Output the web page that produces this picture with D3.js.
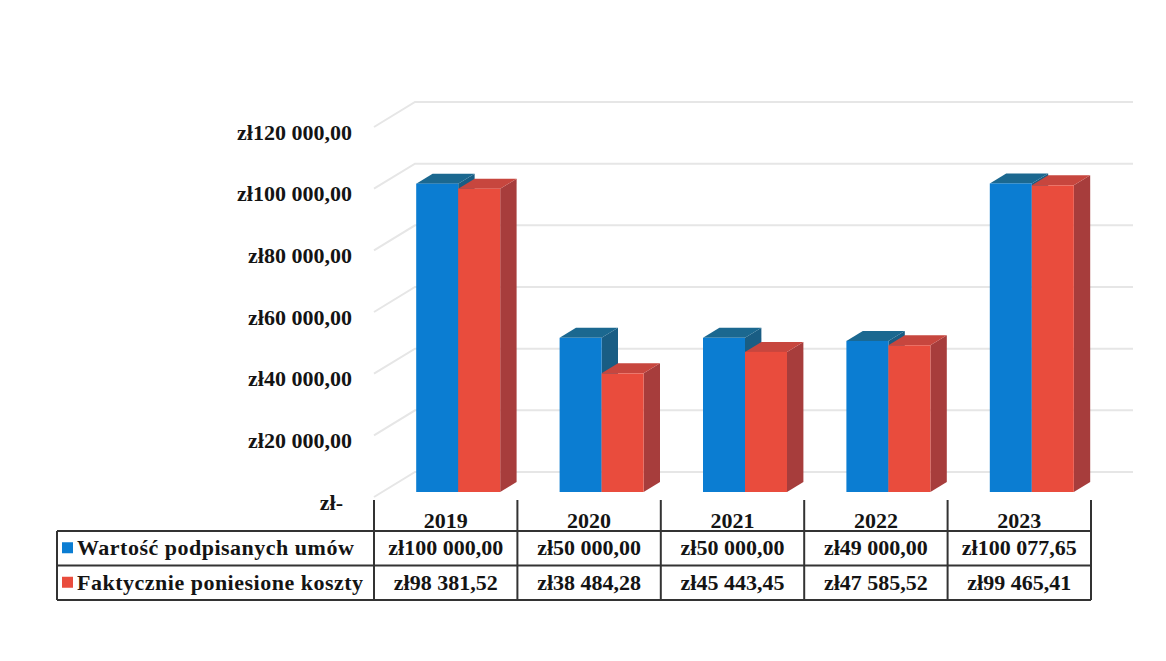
<!DOCTYPE html>
<html>
<head>
<meta charset="utf-8">
<script src="https://cdn.jsdelivr.net/npm/d3@7"></script>
<style>
  body { margin: 0; background: #fff; }
  svg text { font-family: "Liberation Serif", "Times New Roman", serif; font-weight: bold; fill: #141414; }
</style>
</head>
<body>
<svg id="chart" width="1166" height="661"></svg>
<script>
// data
var years = ["2019", "2020", "2021", "2022", "2023"];
var seriesNames = ["Wartość podpisanych umów", "Faktycznie poniesione koszty"];
var signedValues = [100000, 50000, 50000, 49000, 100077.65];
var actualValues = [98381.52, 38484.28, 45443.45, 47585.52, 99465.41];
var yTicks = [0, 20000, 40000, 60000, 80000, 100000, 120000];

var series = [signedValues, actualValues];
var colors = [
    { front: "#0b7dd2", top: "#1b6890", side: "#195d84" },
    { front: "#e94c3d", top: "#c7463e", side: "#a73d3c" }
];

var svg = d3.select("#chart");

var locale = d3.formatLocale({ decimal: ",", thousands: " ", grouping: [3], currency: ["zł", ""] });
var money = locale.format("$,.2f");
function zl(v) { return v === 0 ? "zł-" : money(v); }

// plot geometry (3D floor: front edge and depth offset)
var x = d3.scaleBand().domain(years).range([374, 1091]);
var y = d3.scaleLinear().domain([0, 120000]).range([497, 127]);
var DX = 41, DY = -25;
var gridRight = 1133;

function pt(px, v, d) { return [px + d * DX, y(v) + d * DY]; }

// gridlines: slanted left wall part + back wall part
var grid = svg.append("g");
yTicks.forEach(function(t) {
    var a = pt(x.range()[0], t, 0), b = pt(x.range()[0], t, 1);
    grid.append("path")
        .attr("d", "M" + a + "L" + b + "L" + [gridRight, b[1]])
        .attr("fill", "none")
        .attr("stroke", "#e6e6e6")
        .attr("stroke-width", 2);
});

// y axis labels
var yAxis = svg.append("g")
    .attr("transform", "translate(352,5)")
    .call(d3.axisLeft(y).tickValues(yTicks).tickSize(0).tickPadding(0).tickFormat(zl));
yAxis.select(".domain").remove();
yAxis.selectAll("text")
    .attr("font-size", 22)
    .attr("font-family", null)
    .attr("fill", null)
    .attr("dx", function(d) { return d === 0 ? -9 : 0; });

// 3D bars
var inner = d3.scaleBand().domain([0, 1]).range([34, 34 + 84]);
var d0 = 0.2, d1 = 0.6;
var bars = svg.append("g");

years.forEach(function(yr, i) {
    [0, 1].forEach(function(s) {
        var v = series[s][i];
        var xl = x(yr) + inner(s), xr = xl + inner.bandwidth();
        var c = colors[s];
        var fl = pt(xl, v, d0), fr = pt(xr, v, d0), br = pt(xr, v, d1), bl = pt(xl, v, d1);
        var fr0 = pt(xr, 0, d0), br0 = pt(xr, 0, d1), fl0 = pt(xl, 0, d0);
        // side
        bars.append("path").attr("d", "M" + fr + "L" + br + "L" + br0 + "L" + fr0 + "Z").attr("fill", c.side);
        // top
        bars.append("path").attr("d", "M" + fl + "L" + fr + "L" + br + "L" + bl + "Z").attr("fill", c.top);
        // front
        bars.append("rect")
            .attr("x", fl[0]).attr("y", fl[1])
            .attr("width", fr[0] - fl[0]).attr("height", fl0[1] - fl[1])
            .attr("fill", c.front);
    });
});

// data table
var rowTop = 531, rowH = 34.5, tableLeft = 57, headTop = 500;
var table = svg.append("g").attr("stroke", "#333").attr("stroke-width", 2).attr("fill", "none");
var bounds = years.map(function(d) { return x(d); }).concat([x.range()[1]]);
bounds.forEach(function(bx) {
    table.append("line").attr("x1", bx).attr("x2", bx).attr("y1", headTop).attr("y2", rowTop + 2 * rowH);
});
table.append("line").attr("x1", tableLeft).attr("x2", tableLeft).attr("y1", rowTop).attr("y2", rowTop + 2 * rowH);
[0, 1, 2].forEach(function(r) {
    table.append("line").attr("x1", tableLeft).attr("x2", x.range()[1])
        .attr("y1", rowTop + r * rowH).attr("y2", rowTop + r * rowH);
});

// year header
svg.append("g").selectAll("text").data(years).join("text")
    .attr("x", function(d) { return x(d) + x.bandwidth() / 2; })
    .attr("y", 528)
    .attr("text-anchor", "middle")
    .attr("font-size", 22)
    .text(function(d) { return d; });

// rows: legend key + values
series.forEach(function(vals, s) {
    var cy = rowTop + s * rowH + rowH / 2;
    svg.append("rect")
        .attr("x", 62).attr("y", cy - 6).attr("width", 11).attr("height", 11)
        .attr("fill", colors[s].front);
    svg.append("text")
        .attr("x", 77).attr("y", cy + 7)
        .attr("font-size", 22)
        .attr("letter-spacing", 0.5)
        .text(seriesNames[s]);
    svg.append("g").selectAll("text").data(vals).join("text")
        .attr("x", function(d, i) { return x(years[i]) + x.bandwidth() / 2; })
        .attr("y", cy + 7)
        .attr("text-anchor", "middle")
        .attr("font-size", 22)
        .text(function(d) { return money(d); });
});
</script>
</body>
</html>
